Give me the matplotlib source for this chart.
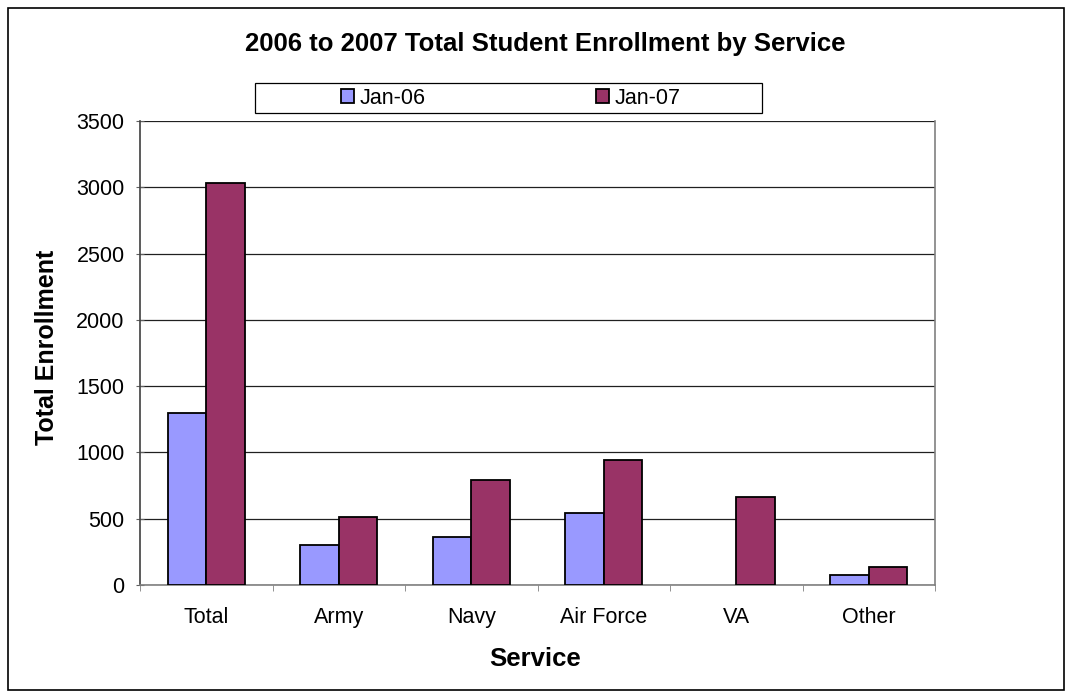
import matplotlib
matplotlib.use("Agg")
import matplotlib.pyplot as plt
import numpy as np
from matplotlib.patches import Rectangle

categories = ["Total", "Army", "Navy", "Air Force", "VA", "Other"]
jan06 = [1295, 300, 363, 543, 0, 74]
jan07 = [3030, 513, 789, 941, 667, 137]
series_names = ["Jan-06", "Jan-07"]
colors = ["#9999FF", "#993366"]
yticks = [0, 500, 1000, 1500, 2000, 2500, 3000, 3500]

plt.rcParams['font.family'] = ['Liberation Sans', 'DejaVu Sans']

fig = plt.figure(figsize=(10.72, 6.98), dpi=100)
W, H = 1072, 698
ax = fig.add_axes([140 / W, 1 - 585 / H, (935 - 140) / W, (585 - 121) / H])

# outer chart border
fig.patches.append(Rectangle((8 / W, 1 - 690 / H), (1064 - 8) / W, (690 - 8) / H,
                             transform=fig.transFigure, fill=False, edgecolor="black", linewidth=1.2))

x = np.arange(len(categories))
bw = 0.29
b1 = ax.bar(x - bw / 2, jan06, bw, color=colors[0], edgecolor="black", linewidth=1.3, label=series_names[0], zorder=3)
b2 = ax.bar(x + bw / 2, jan07, bw, color=colors[1], edgecolor="black", linewidth=1.3, label=series_names[1], zorder=3)
for p in list(b1.patches) + list(b2.patches):
    if p.get_height() == 0:
        p.set_edgecolor("none")

ax.set_xlim(-0.5, len(categories) - 0.5)
ax.set_ylim(0, 3500)
ax.set_yticks(yticks)
ax.set_xticks(x)
ax.set_xticklabels(categories, fontsize=15.5)
ax.set_xticks(np.arange(-0.5, len(categories)), minor=True)
ax.tick_params(axis="x", which="major", length=0, pad=16)
ax.tick_params(axis="x", which="minor", length=4.5, color="#808080")
ax.tick_params(axis="y", labelsize=15.5, length=6, direction="inout", color="#606060", pad=8)
ax.yaxis.grid(True, color="#202020", linewidth=0.9, zorder=0)
ax.set_axisbelow(True)
for s in ax.spines.values():
    s.set_color("#808080")
    s.set_linewidth(1.2)
ax.spines["left"].set_color("#404040")
ax.spines["top"].set_visible(False)

fig.text(47 / W, 1 - 347 / H, "Total Enrollment", rotation=90, ha="center", va="center",
         fontsize=18, fontweight="bold")
fig.text(535 / W, 1 - 659 / H, "Service", ha="center", va="center",
         fontsize=18.5, fontweight="bold")
fig.text(545 / W, 1 - 44 / H, "2006 to 2007 Total Student Enrollment by Service",
         ha="center", va="center", fontsize=18.5, fontweight="bold")

# legend frame and legend
fig.patches.append(Rectangle((255 / W, 1 - 113 / H), (762 - 255) / W, (113 - 83) / H,
                             transform=fig.transFigure, fill=False, edgecolor="black", linewidth=0.9))
leg = fig.legend(handles=[b1, b2], labels=series_names, loc="center",
                 bbox_to_anchor=(511 / W, 1 - 98 / H), ncol=2, fontsize=15.5,
                 frameon=False, handlelength=0.6, handleheight=0.6,
                 handletextpad=0.28, columnspacing=7.9, borderpad=0.2)

fig.savefig("out.png", dpi=100)
